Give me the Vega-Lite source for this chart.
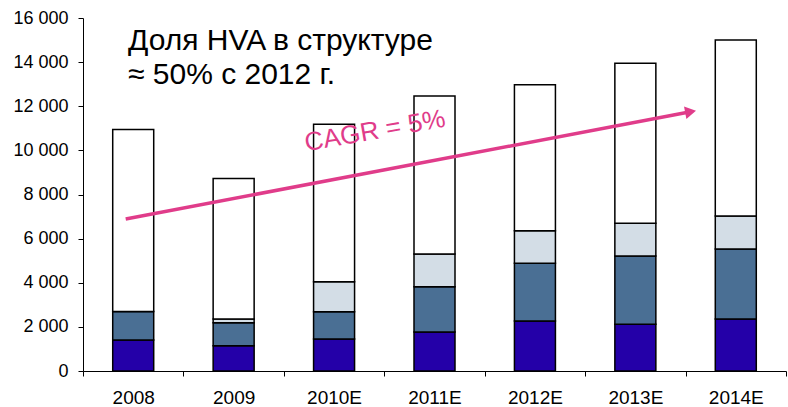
{
  "$schema": "https://vega.github.io/schema/vega-lite/v6.json",
  "width": 703,
  "height": 353,
  "autosize": {"type": "none"},
  "padding": {"left": 83, "top": 18, "right": 2, "bottom": 36},
  "background": "white",
  "config": {
    "view": {"stroke": null},
    "font": "Liberation Sans",
    "locale": {"number": {"decimal": ",", "thousands": " ", "grouping": [3], "currency": ["", ""]}}
  },
  "datasets": {
    "bars": [
      {"year": "2008", "segment": "A", "ord": 1, "value": 1400},
      {"year": "2008", "segment": "B", "ord": 2, "value": 1300},
      {"year": "2008", "segment": "C", "ord": 3, "value": 0},
      {"year": "2008", "segment": "D", "ord": 4, "value": 8250},
      {"year": "2009", "segment": "A", "ord": 1, "value": 1140},
      {"year": "2009", "segment": "B", "ord": 2, "value": 1050},
      {"year": "2009", "segment": "C", "ord": 3, "value": 170},
      {"year": "2009", "segment": "D", "ord": 4, "value": 6360},
      {"year": "2010E", "segment": "A", "ord": 1, "value": 1450},
      {"year": "2010E", "segment": "B", "ord": 2, "value": 1240},
      {"year": "2010E", "segment": "C", "ord": 3, "value": 1360},
      {"year": "2010E", "segment": "D", "ord": 4, "value": 7130},
      {"year": "2011E", "segment": "A", "ord": 1, "value": 1770},
      {"year": "2011E", "segment": "B", "ord": 2, "value": 2050},
      {"year": "2011E", "segment": "C", "ord": 3, "value": 1480},
      {"year": "2011E", "segment": "D", "ord": 4, "value": 7170},
      {"year": "2012E", "segment": "A", "ord": 1, "value": 2270},
      {"year": "2012E", "segment": "B", "ord": 2, "value": 2610},
      {"year": "2012E", "segment": "C", "ord": 3, "value": 1480},
      {"year": "2012E", "segment": "D", "ord": 4, "value": 6610},
      {"year": "2013E", "segment": "A", "ord": 1, "value": 2120},
      {"year": "2013E", "segment": "B", "ord": 2, "value": 3090},
      {"year": "2013E", "segment": "C", "ord": 3, "value": 1490},
      {"year": "2013E", "segment": "D", "ord": 4, "value": 7250},
      {"year": "2014E", "segment": "A", "ord": 1, "value": 2360},
      {"year": "2014E", "segment": "B", "ord": 2, "value": 3170},
      {"year": "2014E", "segment": "C", "ord": 3, "value": 1500},
      {"year": "2014E", "segment": "D", "ord": 4, "value": 7970}
    ],
    "arrow": [
      {"ax": 0.425, "ay": 6890},
      {"ax": 6.05, "ay": 11750}
    ],
    "head": [
      {"ax": 6.05, "ay": 11750}
    ]
  },
  "layer": [
    {
      "data": {"name": "bars"},
      "mark": {"type": "bar", "size": 41, "stroke": "black", "strokeWidth": 1.5},
      "encoding": {
        "x": {
          "field": "year", "type": "nominal", "sort": null,
          "scale": {"paddingInner": 0, "paddingOuter": 0},
          "axis": {
            "title": null, "labelAngle": 0, "labelFontSize": 19, "labelColor": "black",
            "labelPadding": 12, "tickBand": "extent", "tickSize": 5,
            "tickColor": "black", "domainColor": "black", "grid": false
          }
        },
        "y": {
          "field": "value", "type": "quantitative", "stack": "zero",
          "scale": {"domain": [0, 16000], "nice": false},
          "axis": {
            "title": null, "values": [0, 2000, 4000, 6000, 8000, 10000, 12000, 14000, 16000],
            "format": ",d", "labelFontSize": 18, "labelColor": "black", "labelPadding": 10,
            "tickSize": 5, "tickColor": "black", "domainColor": "black", "grid": false
          }
        },
        "color": {
          "field": "segment", "type": "nominal", "legend": null,
          "scale": {"domain": ["A", "B", "C", "D"], "range": ["#2400A8", "#4A6F94", "#D3DDE6", "#FFFFFF"]}
        },
        "order": {"field": "ord", "type": "quantitative"}
      }
    },
    {
      "data": {"name": "arrow"},
      "mark": {"type": "line", "color": "#E03C8A", "strokeWidth": 3.5},
      "encoding": {
        "x": {"field": "ax", "type": "quantitative", "scale": {"domain": [0, 7], "nice": false}, "axis": null},
        "y": {"field": "ay", "type": "quantitative"}
      }
    },
    {
      "data": {"name": "head"},
      "mark": {"type": "point", "shape": "triangle-right", "filled": true, "color": "#E03C8A", "size": 160, "angle": 349.3, "opacity": 1},
      "encoding": {
        "x": {"field": "ax", "type": "quantitative", "scale": {"domain": [0, 7], "nice": false}, "axis": null},
        "y": {"field": "ay", "type": "quantitative"}
      }
    },
    {
      "data": {"values": [{"label": "CAGR = 5%"}]},
      "mark": {"type": "text", "color": "#E03C8A", "fontSize": 26, "angle": 350, "align": "center", "baseline": "middle"},
      "encoding": {
        "x": {"datum": 2.907, "type": "quantitative", "scale": {"domain": [0, 7], "nice": false}, "axis": null},
        "y": {"datum": 10880, "type": "quantitative"},
        "text": {"field": "label"}
      }
    },
    {
      "data": {"values": [{"label": "Доля HVA в структуре\n≈ 50% с 2012 г."}]},
      "mark": {"type": "text", "color": "black", "fontSize": 30, "align": "left", "baseline": "alphabetic", "lineBreak": "\n", "lineHeight": 34},
      "encoding": {
        "x": {"datum": 0.448, "type": "quantitative", "scale": {"domain": [0, 7], "nice": false}, "axis": null},
        "y": {"datum": 14550, "type": "quantitative"},
        "text": {"field": "label"}
      }
    }
  ],
  "resolve": {"scale": {"x": "independent"}, "axis": {"x": "independent"}}
}
